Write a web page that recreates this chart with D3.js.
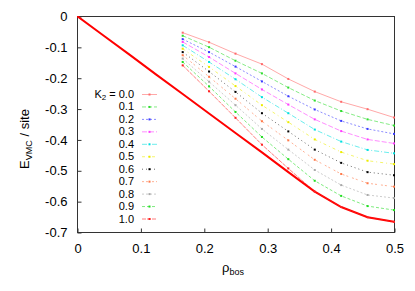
<!DOCTYPE html>
<html><head><meta charset="utf-8">
<script src="https://cdn.jsdelivr.net/npm/d3@7"></script>
<style>
html,body{margin:0;padding:0;background:#fff;}
text{font-family:"Liberation Sans",Arial,Helvetica,sans-serif;fill:#000;}
</style></head>
<body><svg id="c" width="415" height="291"></svg>
<script>
// ---- data ----
const rho = [0.1667, 0.2083, 0.25, 0.2917, 0.3333, 0.375, 0.4167, 0.4583, 0.5];
const k2Labels = ["0.0","0.1","0.2","0.3","0.4","0.5","0.6","0.7","0.8","0.9","1.0"];
const e00 = [-0.054,-0.085,-0.122,-0.156,-0.204,-0.245,-0.278,-0.302,-0.329];
const e01 = [-0.064,-0.101,-0.145,-0.186,-0.232,-0.274,-0.308,-0.335,-0.355];
const e02 = [-0.075,-0.117,-0.164,-0.212,-0.260,-0.303,-0.340,-0.366,-0.382];
const e03 = [-0.084,-0.133,-0.186,-0.238,-0.287,-0.335,-0.373,-0.400,-0.413];
const e04 = [-0.095,-0.149,-0.205,-0.263,-0.315,-0.368,-0.407,-0.434,-0.445];
const e05 = [-0.106,-0.165,-0.227,-0.289,-0.344,-0.400,-0.441,-0.469,-0.480];
const e06 = [-0.117,-0.180,-0.246,-0.315,-0.374,-0.433,-0.476,-0.506,-0.516];
const e07 = [-0.127,-0.197,-0.268,-0.341,-0.403,-0.466,-0.512,-0.542,-0.553];
const e08 = [-0.138,-0.213,-0.289,-0.366,-0.433,-0.499,-0.548,-0.580,-0.590];
const e09 = [-0.149,-0.228,-0.311,-0.392,-0.464,-0.534,-0.583,-0.616,-0.629];
const e10 = [-0.160,-0.244,-0.330,-0.417,-0.494,-0.569,-0.619,-0.652,-0.667];
const rhoFull = [0, 0.0417, 0.0833, 0.125, 0.1667, 0.2083, 0.25, 0.2917, 0.3333, 0.375, 0.4167, 0.4583, 0.5];
const eBound = [0, -0.063, -0.126, -0.190, -0.253, -0.316, -0.379, -0.442, -0.506, -0.569, -0.619, -0.652, -0.667];
const xTicks = [0, 0.1, 0.2, 0.3, 0.4, 0.5];
const yTicks = [0, -0.1, -0.2, -0.3, -0.4, -0.5, -0.6, -0.7];

const seriesE = [e00,e01,e02,e03,e04,e05,e06,e07,e08,e09,e10];
const colors = ["#ff6a6a","#30dd30","#3a3aff","#ff3cff","#00e0e0","#ecec00","#000000","#ff7a4a","#a8a8a8","#22dd22","#ff2020"];
const dashes = [null,"4,2","2,2","5,2","5,2,1,2","3,3,1,3","1,3","2,2,2,4","2,2","3,2","4,1"];

// ---- layout ----
const L=77, R=394, T=16, B=232;
const x = d3.scaleLinear().domain([0,0.5]).range([L,R]);
const y = d3.scaleLinear().domain([-0.7,0]).range([B,T]);
const svg = d3.select("#c");

// frame
svg.append("rect").attr("x",L+0.5).attr("y",T+0.5).attr("width",R-L).attr("height",B-T)
  .attr("fill","none").attr("stroke","#333").attr("stroke-width",1);

// axes (inward ticks)
const xAx = svg.append("g").attr("transform",`translate(0.5,${B+0.5})`)
  .call(d3.axisBottom(x).tickValues(xTicks).tickSizeInner(-4).tickSizeOuter(0).tickPadding(11)
    .tickFormat(d=>d===0?"0":d3.format(".1f")(d)));
xAx.select(".domain").remove();
xAx.selectAll("line").attr("stroke","#333");
xAx.selectAll("text").attr("font-size",13).style("font-family",'"Liberation Sans",Arial,sans-serif');

const yAx = svg.append("g").attr("transform",`translate(${L+0.5},0.5)`)
  .call(d3.axisLeft(y).tickValues(yTicks).tickSizeInner(-4).tickSizeOuter(0).tickPadding(10)
    .tickFormat(d=>d===0?"0":d3.format(".1f")(d).replace("−","-")));
yAx.select(".domain").remove();
yAx.selectAll("line").attr("stroke","#333");
yAx.selectAll("text").attr("font-size",13).style("font-family",'"Liberation Sans",Arial,sans-serif');

// clip
svg.append("clipPath").attr("id","clip").append("rect").attr("x",L).attr("y",T).attr("width",R-L+1).attr("height",B-T+1);
const plot = svg.append("g").attr("clip-path","url(#clip)");

const line = d3.line().x(d=>x(d[0])).y(d=>y(d[1]));

// boundary thick red line
plot.append("path").datum(rhoFull.map((r,i)=>[r,eBound[i]]))
  .attr("d",line).attr("fill","none").attr("stroke","#ff0000").attr("stroke-width",2);

// series
seriesE.forEach((es,k)=>{
  const pts = rho.map((r,i)=>[r,es[i]]);
  plot.append("path").datum(pts).attr("d",line).attr("fill","none")
    .attr("stroke",colors[k]).attr("stroke-width",0.9).attr("stroke-opacity",0.65)
    .attr("stroke-dasharray",dashes[k]);
  plot.selectAll(null).data(pts).enter().append("rect")
    .attr("x",d=>x(d[0])-1).attr("y",d=>y(d[1])-1).attr("width",2).attr("height",2)
    .attr("fill",colors[k]);
});

// legend
const lg = svg.append("g");
const ly0 = 94, ldy = 12.45;
k2Labels.forEach((lab,k)=>{
  const yy = ly0 + k*ldy;
  const t = lg.append("text").attr("x",134).attr("y",yy+4).attr("text-anchor","end").attr("font-size",11);
  if(k===0){
    t.append("tspan").text("K");
    t.append("tspan").attr("font-size",8).attr("dy",2).text("2");
    t.append("tspan").attr("dy",-2).text(" = "+lab);
  } else t.text(lab);
  lg.append("line").attr("x1",142).attr("x2",157).attr("y1",yy+0.5).attr("y2",yy+0.5)
    .attr("stroke",colors[k]).attr("stroke-width",0.9).attr("stroke-opacity",0.65)
    .attr("stroke-dasharray",dashes[k]);
  lg.append("rect").attr("x",149.5-1).attr("y",yy+0.5-1).attr("width",2).attr("height",2).attr("fill",colors[k]);
});

// axis labels
const yl = svg.append("text").attr("transform","translate(29,139) rotate(-90)").attr("text-anchor","middle").attr("font-size",13);
yl.append("tspan").text("E");
yl.append("tspan").attr("font-size",9).attr("dy",3).text("VMC");
yl.append("tspan").attr("dy",-3).text(" / site");

const xl = svg.append("text").attr("x",233).attr("y",272).attr("text-anchor","middle").attr("font-size",13);
xl.append("tspan").text("ρ");
xl.append("tspan").attr("font-size",9).attr("dy",3).text("bos");
</script></body></html>
